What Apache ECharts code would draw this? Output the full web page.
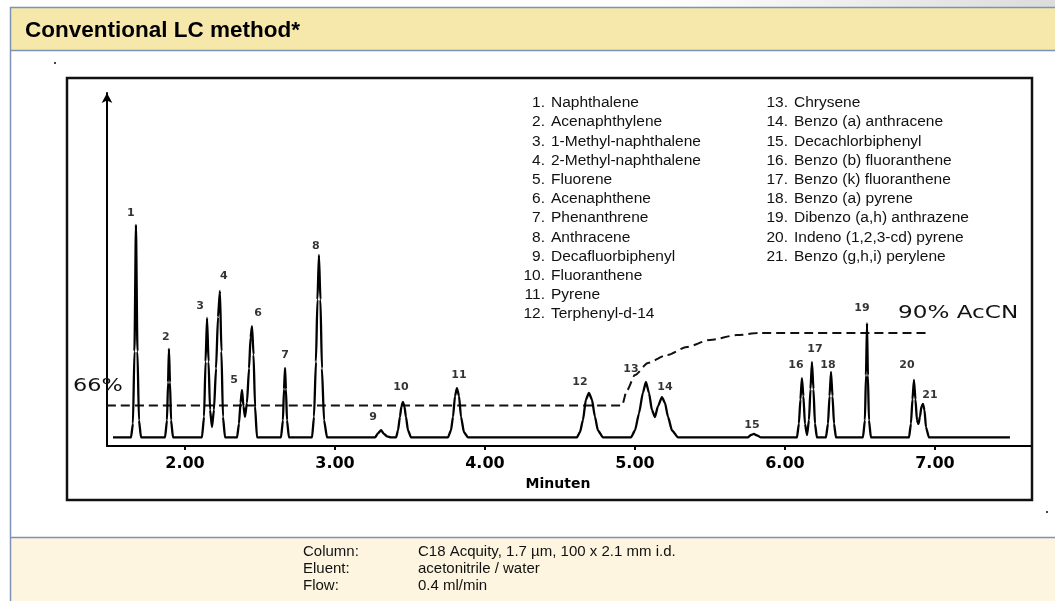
<!DOCTYPE html>
<html>
<head>
<meta charset="utf-8">
<title>Conventional LC method</title>
<script src="https://cdn.jsdelivr.net/npm/echarts@6.0.0/dist/echarts.min.js"></script>
<style>
  html, body { margin: 0; padding: 0; background: #ffffff; }
  #chart { width: 1055px; height: 601px; }
</style>
</head>
<body>
<div id="chart"></div>
<script>
// ---- Chromatogram data (time in minutes, detector signal in relative units) ----

// Detector trace: [retention time, signal]
const trace = [
  [1.520, 0],
  [1.640, 0], [1.653, 4], [1.663, 25], [1.673, 61.7], [1.683, 25], [1.693, 5], [1.707, 0],
  [1.867, 0], [1.880, 5], [1.887, 16], [1.893, 25.7], [1.900, 16], [1.907, 5], [1.920, 0],
  [2.113, 0], [2.127, 6], [2.137, 22], [2.147, 34.7], [2.157, 22], [2.167, 8], [2.180, 3],
  [2.193, 8], [2.207, 20], [2.220, 35], [2.233, 42.5], [2.243, 25], [2.253, 6], [2.267, 0],
  [2.347, 0], [2.360, 4], [2.370, 10], [2.380, 13.8], [2.390, 9], [2.400, 6],
  [2.413, 10], [2.427, 20], [2.437, 29], [2.447, 32.3], [2.457, 24], [2.467, 9], [2.480, 0],
  [2.640, 0], [2.653, 5], [2.660, 14], [2.667, 20.2], [2.673, 14], [2.680, 5], [2.693, 0],
  [2.847, 0], [2.860, 6], [2.873, 22], [2.883, 40], [2.893, 53.0], [2.903, 40], [2.913, 20], [2.927, 5], [2.947, 0],
  [3.267, 0], [3.287, 1.2], [3.307, 2.1], [3.327, 1.0], [3.347, 0.3], [3.373, 0],
  [3.407, 0], [3.420, 2], [3.433, 6], [3.443, 9], [3.453, 10.3], [3.463, 9], [3.473, 6], [3.487, 2], [3.507, 0],
  [3.753, 0], [3.773, 2], [3.787, 6], [3.800, 12], [3.813, 14.3], [3.827, 12], [3.840, 6], [3.860, 1.5], [3.887, 0],
  [4.613, 0], [4.633, 1.5], [4.653, 5], [4.673, 11], [4.693, 12.9], [4.713, 11], [4.733, 6], [4.753, 2], [4.787, 0],
  [4.973, 0], [5.000, 2], [5.027, 7], [5.053, 13], [5.073, 16.1], [5.093, 13], [5.113, 8], [5.133, 5.9],
  [5.153, 9], [5.180, 11.7], [5.200, 10], [5.220, 6], [5.247, 2], [5.287, 0],
  [5.753, 0], [5.773, 0.7], [5.793, 1.0], [5.813, 0.6], [5.840, 0],
  [6.080, 0], [6.093, 4], [6.103, 11], [6.113, 17.2], [6.123, 12], [6.133, 4], [6.147, 0.7],
  [6.160, 5], [6.170, 14], [6.180, 21.9], [6.190, 14], [6.200, 4], [6.213, 0],
  [6.273, 0], [6.287, 4], [6.297, 12], [6.307, 19.0], [6.317, 12], [6.327, 4], [6.340, 0],
  [6.520, 0], [6.533, 5], [6.540, 18], [6.547, 33.2], [6.553, 18], [6.560, 5], [6.573, 0],
  [6.827, 0], [6.840, 4], [6.850, 11], [6.860, 16.7], [6.870, 11], [6.880, 5], [6.890, 3.9],
  [6.900, 6], [6.910, 9], [6.920, 9.7], [6.930, 8], [6.940, 3], [6.960, 0],
  [7.500, 0]
];

// Peak apexes (numbered 1..21)
const peakTime = [1.673, 1.893, 2.147, 2.233, 2.380, 2.447, 2.667, 2.893, 3.307, 3.453, 3.813,
                  4.693, 5.073, 5.180, 5.793, 6.113, 6.180, 6.307, 6.547, 6.860, 6.920];
const peakHeight = [61.7, 25.7, 34.7, 42.5, 13.8, 32.3, 20.2, 53.0, 2.1, 10.3, 14.3,
                    12.9, 16.1, 11.7, 1.0, 17.2, 21.9, 19.0, 33.2, 16.7, 9.7];

// Eluent gradient, % acetonitrile
const gradientTime = [1.48, 4.913, 4.947, 5.000, 5.087, 5.213, 5.347, 5.500, 5.680, 5.833, 6.967];
const gradientPct  = [66, 66, 71.1, 76.1, 80.1, 82.7, 85.4, 87.7, 89.3, 90, 90];

// Time axis tick labels
const timeTicks = [2, 3, 4, 5, 6, 7];

// Compound names
const compounds = [
  'Naphthalene', 'Acenaphthylene', '1-Methyl-naphthalene', '2-Methyl-naphthalene',
  'Fluorene', 'Acenaphthene', 'Phenanthrene', 'Anthracene', 'Decafluorbiphenyl',
  'Fluoranthene', 'Pyrene', 'Terphenyl-d-14', 'Chrysene', 'Benzo (a) anthracene',
  'Decachlorbiphenyl', 'Benzo (b) fluoranthene', 'Benzo (k) fluoranthene',
  'Benzo (a) pyrene', 'Dibenzo (a,h) anthrazene', 'Indeno (1,2,3-cd) pyrene',
  'Benzo (g,h,i) perylene'
];

// Chromatographic conditions
const conditionLabels = ['Column:', 'Eluent:', 'Flow:'];
const conditionValues = ['C18 Acquity, 1.7 µm, 100 x 2.1 mm i.d.', 'acetonitrile / water', '0.4 ml/min'];

// ---- Layout ----
// Pixel nudges of the peak numbers relative to each apex
const peakLabelShift = [
  [-5, -12], [-3, -12], [-7, -12], [4, -15], [-8, -10], [6, -13], [0, -13], [-3, -9],
  [-8, -13], [-2, -15], [2, -13], [-9, -11], [-15, -13], [3, -10], [-2, -9], [-6, -13],
  [3, -13], [-3, -7], [-5, -15], [-7, -15], [7, -9]
];

const BORDER = '#7d93b6';
const SCAN_FONT = '"DejaVu Sans", sans-serif';
const PAGE_FONT = '"Liberation Sans", Arial, sans-serif';

const graphics = [];

// faint grey shading along the very top edge
graphics.push({
  type: 'rect', silent: true, z: 0,
  shape: { x: 0, y: 0, width: 1055, height: 7 },
  style: { fill: { type: 'linear', x: 0, y: 0, x2: 1, y2: 0,
    colorStops: [{ offset: 0, color: '#ffffff' }, { offset: 0.62, color: '#ffffff' }, { offset: 1, color: '#dcdcdc' }] } }
});
// header band
graphics.push({
  type: 'rect', silent: true, z: 0,
  shape: { x: 10, y: 7, width: 1045, height: 44 },
  style: { fill: '#f6e8aa' }
});
graphics.push({ type: 'line', silent: true, z: 1, shape: { x1: 10, y1: 7.5, x2: 1055, y2: 7.5 }, style: { stroke: BORDER, lineWidth: 1.5 } });
graphics.push({ type: 'line', silent: true, z: 1, shape: { x1: 10, y1: 50.5, x2: 1055, y2: 50.5 }, style: { stroke: BORDER, lineWidth: 1.5 } });
// footer band
graphics.push({
  type: 'rect', silent: true, z: 0,
  shape: { x: 10, y: 537, width: 1045, height: 64 },
  style: { fill: '#fdf5df' }
});
graphics.push({ type: 'line', silent: true, z: 1, shape: { x1: 10, y1: 537.5, x2: 1055, y2: 537.5 }, style: { stroke: BORDER, lineWidth: 1.5 } });
// left page border
graphics.push({ type: 'line', silent: true, z: 1, shape: { x1: 10.5, y1: 7, x2: 10.5, y2: 601 }, style: { stroke: BORDER, lineWidth: 1.5 } });

// title
graphics.push({
  type: 'text', silent: true, z: 2, x: 25, y: 31,
  style: { text: 'Conventional LC method*', fill: '#000', font: 'bold 22.5px ' + PAGE_FONT,
           textAlign: 'left', textVerticalAlign: 'middle' }
});

// plot frame
graphics.push({
  type: 'rect', silent: true, z: 1,
  shape: { x: 67, y: 78, width: 965, height: 422 },
  style: { fill: 'none', stroke: '#111', lineWidth: 2.5 }
});
// stray specks
graphics.push({ type: 'rect', silent: true, z: 1, shape: { x: 54, y: 62, width: 2, height: 2 }, style: { fill: '#444' } });
graphics.push({ type: 'rect', silent: true, z: 1, shape: { x: 1046, y: 511, width: 2, height: 2 }, style: { fill: '#444' } });

// gradient annotations
graphics.push({
  type: 'text', silent: true, z: 4, x: 73, y: 386, scaleX: 1.28,
  style: { text: '66%', fill: '#111', font: '17.5px ' + SCAN_FONT, textAlign: 'left', textVerticalAlign: 'middle' }
});
graphics.push({
  type: 'text', silent: true, z: 4, x: 898, y: 313, scaleX: 1.32,
  style: { text: '90% AcCN', fill: '#111', font: '17.5px ' + SCAN_FONT, textAlign: 'left', textVerticalAlign: 'middle' }
});

// compound key, two columns
compounds.forEach(function (name, i) {
  const col = i < 12 ? 0 : 1;
  const row = col === 0 ? i : i - 12;
  const numRight = col === 0 ? 545 : 788;
  const y = 103 + row * 19.2;
  graphics.push({
    type: 'text', silent: true, z: 4, x: numRight, y: y,
    style: { text: (i + 1) + '.', fill: '#111', font: '15.5px ' + PAGE_FONT, textAlign: 'right', textVerticalAlign: 'middle' }
  });
  graphics.push({
    type: 'text', silent: true, z: 4, x: numRight + 6, y: y,
    style: { text: name, fill: '#111', font: '15.5px ' + PAGE_FONT, textAlign: 'left', textVerticalAlign: 'middle' }
  });
});

// conditions in the footer
conditionLabels.forEach(function (label, i) {
  const y = 552 + i * 17;
  graphics.push({
    type: 'text', silent: true, z: 4, x: 303, y: y,
    style: { text: label, fill: '#111', font: '15px ' + PAGE_FONT, textAlign: 'left', textVerticalAlign: 'middle' }
  });
  graphics.push({
    type: 'text', silent: true, z: 4, x: 418, y: y,
    style: { text: conditionValues[i], fill: '#111', font: '15px ' + PAGE_FONT, textAlign: 'left', textVerticalAlign: 'middle' }
  });
});

const chart = echarts.init(document.getElementById('chart'), null, { renderer: 'canvas' });

const option = {
  animation: false,
  backgroundColor: '#ffffff',
  grid: { left: 107, right: 23, top: 93, bottom: 155 },
  xAxis: {
    type: 'value',
    min: 1.48,
    max: 7.647,
    axisLine: { onZero: false, lineStyle: { color: '#000', width: 2 } },
    axisTick: { show: true, customValues: timeTicks, length: 4, lineStyle: { color: '#000', width: 2 } },
    axisLabel: {
      customValues: timeTicks,
      formatter: function (v) { return v.toFixed(2); },
      color: '#000', fontFamily: SCAN_FONT, fontWeight: 'bold', fontSize: 16, margin: 10
    },
    splitLine: { show: false },
    name: 'Minuten',
    nameLocation: 'middle',
    nameGap: 31,
    nameTextStyle: { color: '#000', fontFamily: SCAN_FONT, fontWeight: 'bold', fontSize: 14, padding: [0, 23, 0, 0] }
  },
  yAxis: [
    {
      type: 'value',
      min: -2.5,
      max: 100,
      axisLine: { show: true, onZero: false, symbol: ['none', 'arrow'], symbolSize: [8, 10],
                  lineStyle: { color: '#000', width: 2 } },
      axisTick: { show: false },
      axisLabel: { show: false },
      splitLine: { show: false }
    },
    {
      // % acetonitrile scale for the gradient profile
      type: 'value',
      min: 52.59,
      max: 169.44,
      show: false,
      splitLine: { show: false }
    }
  ],
  series: [
    {
      name: '% AcCN',
      type: 'line',
      yAxisIndex: 1,
      data: gradientTime.map(function (t, i) { return [t, gradientPct[i]]; }),
      showSymbol: false,
      symbol: 'none',
      smooth: 0.25,
      smoothMonotone: 'x',
      lineStyle: { color: '#111', width: 2, type: [9, 5] },
      z: 2
    },
    {
      name: 'Signal',
      type: 'line',
      data: trace,
      showSymbol: false,
      symbol: 'none',
      smooth: 0.2,
      smoothMonotone: 'x',
      lineStyle: { color: '#000', width: 2.3 },
      z: 3
    },
    {
      name: 'Peaks',
      type: 'scatter',
      data: peakTime.map(function (t, i) {
        return { value: [t, peakHeight[i]], label: { offset: peakLabelShift[i] } };
      }),
      symbolSize: 1,
      itemStyle: { color: 'rgba(0,0,0,0)' },
      label: {
        show: true,
        position: 'inside',
        formatter: function (p) { return String(p.dataIndex + 1); },
        color: '#000',
        fontFamily: SCAN_FONT,
        fontWeight: 'bold',
        fontSize: 11
      },
      z: 5
    }
  ],
  graphic: { elements: graphics }
};

chart.setOption(option);
</script>
</body>
</html>
